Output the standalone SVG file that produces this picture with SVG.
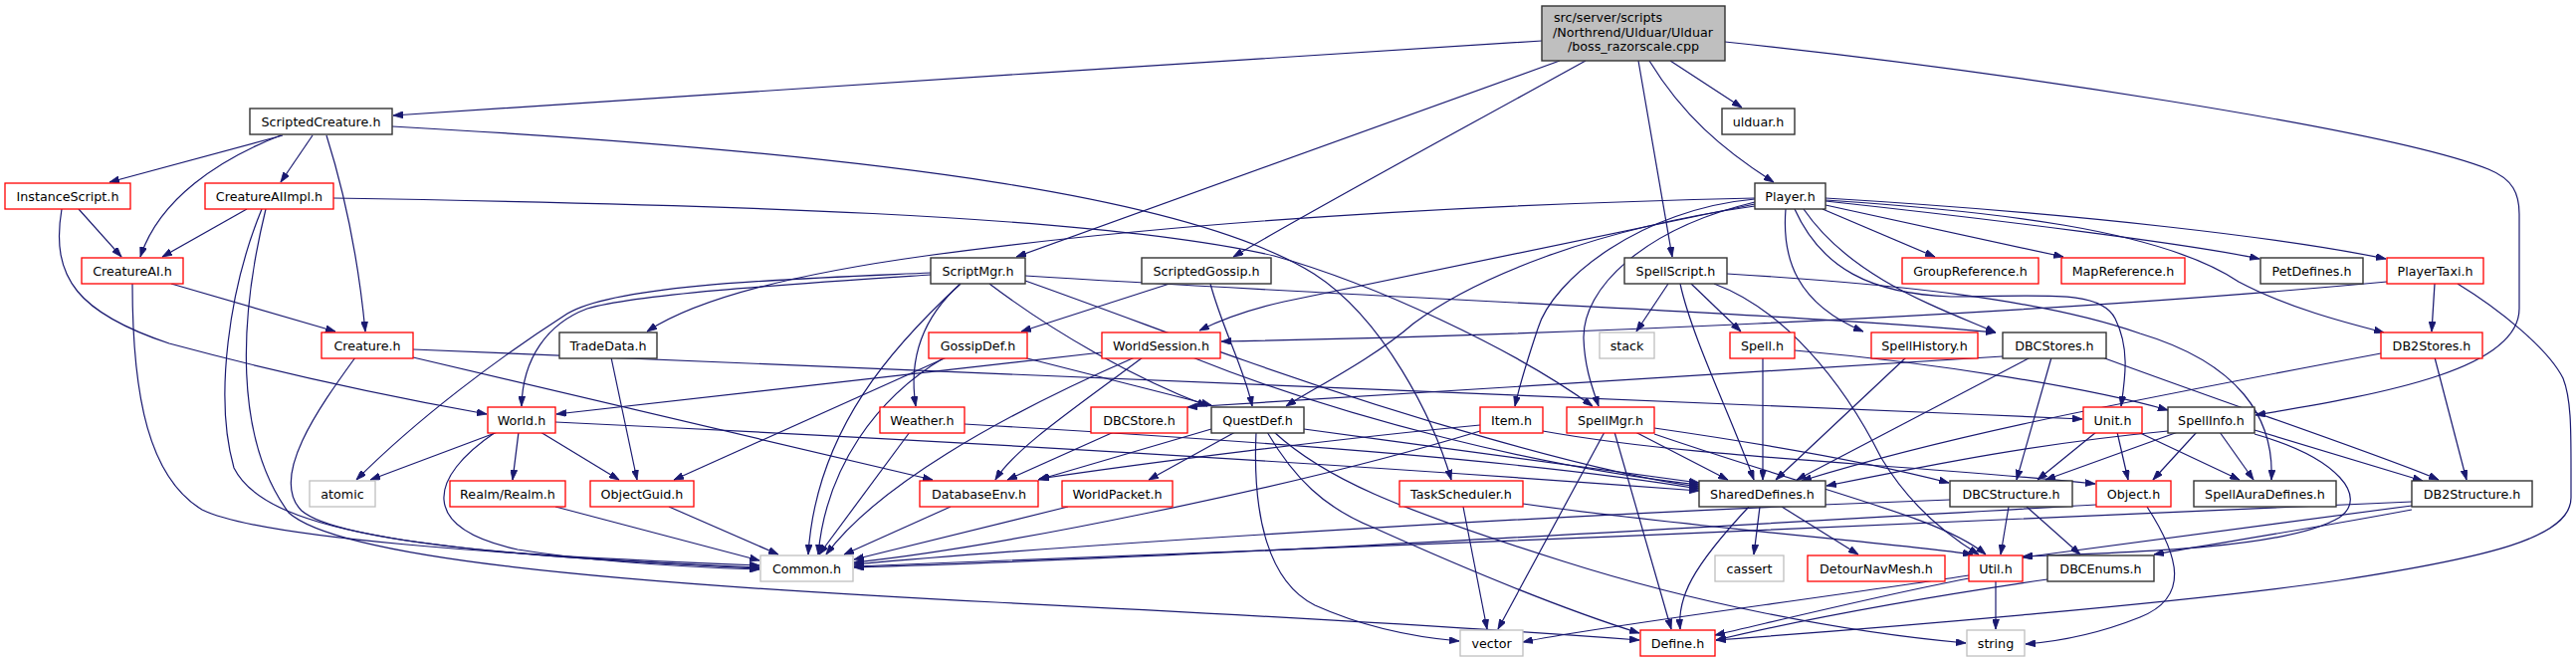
<svg xmlns="http://www.w3.org/2000/svg" width="2588" height="664" viewBox="0 0 2588 664">
<defs>
<marker id="a" viewBox="0 0 10 7" markerWidth="10" markerHeight="7" refX="10" refY="3.5" orient="auto" markerUnits="userSpaceOnUse">
<path d="M0,0 L10,3.5 L0,7 z" fill="#191970" stroke="#191970" stroke-width="0.8"/>
</marker>
</defs>
<style>
.k{fill:#fff;stroke:#333;stroke-width:1.4}
.r{fill:#fff;stroke:#ff0000;stroke-width:1.3}
.g{fill:#fff;stroke:#bfbfbf;stroke-width:1.3}
.rt{fill:#bfbfbf;stroke:#333;stroke-width:1.4}
text{font-family:"DejaVu Sans","Liberation Sans",sans-serif;font-size:12.7px;fill:#000}
.c{text-anchor:middle}
#edges path{fill:none;stroke:#191970;stroke-width:1.2;marker-end:url(#a)}
</style>
<rect width="2588" height="664" fill="#fff"/>
<g id="edges">
<path d="M1549,41 C1200,63 700,95 395,116"/>
<path d="M1567,61 L1021,258"/>
<path d="M1593,61 C1450,140 1320,210 1239,258"/>
<path d="M1646,61 L1680,258"/>
<path d="M1678,61 L1750,108"/>
<path d="M1657,61 C1690,115 1730,150 1782,183"/>
<path d="M1733,42 C2000,70 2400,130 2500,170 C2525,180 2531,195 2531,215 L2531,310 C2531,370 2400,395 2266,417"/>
<path d="M284,136 L110,183"/>
<path d="M282,136 C220,160 160,200 141,258"/>
<path d="M314,136 L282,183"/>
<path d="M328,136 C345,190 360,260 367,333"/>
<path d="M394,127 C900,155 1200,200 1320,275 C1390,320 1440,420 1458,482"/>
<path d="M79,210 L122,258"/>
<path d="M62,210 C50,280 80,315 170,345 C300,380 400,400 489,416"/>
<path d="M248,210 L163,258"/>
<path d="M263,210 C230,290 215,400 235,470 C270,540 450,555 763,571"/>
<path d="M267,210 C240,320 235,440 290,515 C340,560 600,585 1000,605 C1300,620 1500,632 1647,643"/>
<path d="M335,199 C700,205 1100,215 1280,257 C1380,285 1520,350 1600,408"/>
<path d="M172,285 L337,333"/>
<path d="M133,285 C133,400 150,480 203,512 C260,540 500,558 763,568"/>
<path d="M357,359 C320,410 270,480 303,513 C340,545 550,562 763,570"/>
<path d="M415,351 C900,370 1500,395 2092,421"/>
<path d="M415,359 L937,482"/>
<path d="M935,276 C800,285 640,295 590,310 C550,325 525,360 524,408"/>
<path d="M935,274 C800,280 620,285 570,315 C500,360 420,420 358,482"/>
<path d="M965,285 C900,345 820,430 812,557"/>
<path d="M965,285 C920,325 914,370 920,408"/>
<path d="M994,285 C1060,335 1140,380 1213,408"/>
<path d="M1030,277 C1400,300 1800,315 2005,334"/>
<path d="M1030,282 C1120,314 1200,345 1250,362 C1400,415 1600,475 1707,489"/>
<path d="M1175,285 L1026,333"/>
<path d="M1216,285 C1228,330 1250,370 1258,408"/>
<path d="M951,359 L677,482"/>
<path d="M949,359 C880,400 830,470 822,557"/>
<path d="M1028,359 L1217,407"/>
<path d="M1107,354 L559,416"/>
<path d="M1140,359 C1000,420 880,490 830,557"/>
<path d="M1148,359 C1080,410 1020,450 1000,482"/>
<path d="M1198,359 C1350,420 1550,470 1707,487"/>
<path d="M914,434 C880,480 850,520 823,557"/>
<path d="M969,426 C1300,445 1550,465 1707,491"/>
<path d="M500,434 L372,482"/>
<path d="M521,434 L515,482"/>
<path d="M543,434 L622,482"/>
<path d="M498,434 C430,480 420,530 520,552 C600,565 700,570 763,572"/>
<path d="M558,424 C1000,445 1400,470 1707,493"/>
<path d="M614,359 L640,482"/>
<path d="M672,509 L782,557"/>
<path d="M558,509 L763,563"/>
<path d="M955,509 L848,557"/>
<path d="M1073,509 L858,562"/>
<path d="M1119,434 L1012,482"/>
<path d="M1217,431 L1043,482"/>
<path d="M1241,434 L1154,482"/>
<path d="M1310,431 C1450,450 1600,470 1707,485"/>
<path d="M1262,434 C1258,520 1275,585 1321,608 C1370,630 1420,640 1466,644"/>
<path d="M1273,434 C1300,480 1330,510 1380,530 C1480,575 1580,615 1647,636"/>
<path d="M1280,434 C1330,480 1400,510 1571,564 C1700,605 1850,635 1975,646"/>
<path d="M1487,427 C1350,440 1150,465 1044,481"/>
<path d="M1487,433 C1300,490 1000,550 858,565"/>
<path d="M1550,433 C1700,460 1900,465 2105,486"/>
<path d="M1643,434 L1736,482"/>
<path d="M1612,434 L1505,632"/>
<path d="M1622,434 L1679,632"/>
<path d="M1662,430 C1800,450 1900,470 1958,485"/>
<path d="M1662,436 C1850,500 1950,520 1995,557"/>
<path d="M1470,509 L1494,632"/>
<path d="M1530,506 C1700,530 1900,545 1982,557"/>
<path d="M1757,509 C1700,570 1685,600 1688,632"/>
<path d="M1768,509 L1762,557"/>
<path d="M1790,509 L1867,557"/>
<path d="M1771,359 L1771,482"/>
<path d="M1803,352 C1950,365 2100,390 2178,412"/>
<path d="M1915,359 L1784,482"/>
<path d="M2012,358 C1700,378 1400,395 1193,409"/>
<path d="M2040,359 L1805,482"/>
<path d="M2061,359 L2026,482"/>
<path d="M2112,359 C2250,410 2400,460 2450,482"/>
<path d="M2446,359 L2478,482"/>
<path d="M2392,355 C2100,410 1950,440 1810,483"/>
<path d="M2398,283 C2000,320 1500,338 1227,343"/>
<path d="M2446,285 L2443,333"/>
<path d="M2469,285 C2510,310 2560,350 2575,380 C2583,400 2583,430 2583,470 L2583,500 C2583,540 2500,560 2350,583 C2200,605 1900,630 1724,643"/>
<path d="M1763,199 C1500,205 1200,220 930,257 C800,275 700,300 650,333"/>
<path d="M1763,205 C1550,250 1350,290 1290,303 C1250,312 1225,322 1205,332"/>
<path d="M1763,207 C1600,230 1480,280 1420,325 C1380,360 1320,390 1292,408"/>
<path d="M1763,200 C1650,210 1560,280 1545,330 C1535,360 1527,385 1522,408"/>
<path d="M1763,203 C1650,230 1590,290 1591,340 C1592,370 1600,390 1606,408"/>
<path d="M1794,210 C1790,260 1805,305 1872,333"/>
<path d="M1803,210 C1830,270 1880,295 1960,298 C2050,298 2110,290 2125,320 C2140,350 2135,380 2131,408"/>
<path d="M1812,210 C1860,280 1950,310 2005,334"/>
<path d="M1831,210 L1944,258"/>
<path d="M1834,206 L2073,258"/>
<path d="M1834,202 C2000,220 2200,245 2270,260"/>
<path d="M1834,199 C2100,215 2300,240 2397,260"/>
<path d="M1834,201 C2000,212 2170,230 2249,283 C2300,310 2360,325 2395,334"/>
<path d="M1676,285 L1644,333"/>
<path d="M1699,285 L1749,333"/>
<path d="M1688,285 C1700,340 1740,420 1762,482"/>
<path d="M1722,285 C1790,310 1850,380 1890,460 C1920,510 1960,540 1988,557"/>
<path d="M1735,275 C1900,285 2050,300 2150,335 C2250,365 2285,420 2282,482"/>
<path d="M2106,434 L2047,482"/>
<path d="M2127,434 L2138,482"/>
<path d="M2148,434 L2250,482"/>
<path d="M2178,433 C2050,445 1950,465 1835,488"/>
<path d="M2188,434 L2055,482"/>
<path d="M2207,434 L2163,482"/>
<path d="M2230,434 L2264,482"/>
<path d="M2265,432 L2434,483"/>
<path d="M2265,436 C2350,460 2380,500 2350,520 C2300,550 2150,555 2032,559"/>
<path d="M2018,509 L2010,557"/>
<path d="M2036,509 L2090,557"/>
<path d="M1959,502 C1600,515 1100,545 858,567"/>
<path d="M2106,507 C1700,530 1200,560 858,570"/>
<path d="M2157,509 C2190,560 2200,600 2150,620 C2100,640 2060,645 2035,647"/>
<path d="M1978,581 C1880,600 1780,625 1723,638"/>
<path d="M1978,578 C1800,605 1600,630 1530,645"/>
<path d="M2005,583 L2005,632"/>
<path d="M2057,582 C1900,605 1800,625 1724,643"/>
<path d="M2423,504 C2000,525 1300,552 858,569"/>
<path d="M2423,508 C2250,530 2100,550 2032,560"/>
<path d="M2423,512 C2300,535 2200,550 2164,557"/>
</g>
<g id="root"><rect class="rt" x="1549" y="6" width="184" height="55"/><text x="1561" y="21.5">src/server/scripts</text><text x="1560" y="36.5">/Northrend/Ulduar/Ulduar</text><text class="c" x="1641" y="51">/boss_razorscale.cpp</text></g>
<g id="ScriptedCreature"><rect class="k" x="251" y="109" width="143" height="26"/><text class="c" x="322.5" y="126.5">ScriptedCreature.h</text></g>
<g id="ulduar"><rect class="k" x="1730" y="109" width="73" height="26"/><text class="c" x="1766.5" y="126.5">ulduar.h</text></g>
<g id="InstanceScript"><rect class="r" x="5" y="184" width="126" height="26"/><text class="c" x="68" y="201.5">InstanceScript.h</text></g>
<g id="CreatureAIImpl"><rect class="r" x="206" y="184" width="129" height="26"/><text class="c" x="270.5" y="201.5">CreatureAIImpl.h</text></g>
<g id="Player"><rect class="k" x="1763" y="184" width="71" height="26"/><text class="c" x="1798.5" y="201.5">Player.h</text></g>
<g id="CreatureAI"><rect class="r" x="82" y="259" width="102" height="26"/><text class="c" x="133" y="276.5">CreatureAI.h</text></g>
<g id="ScriptMgr"><rect class="k" x="935" y="259" width="95" height="26"/><text class="c" x="982.5" y="276.5">ScriptMgr.h</text></g>
<g id="ScriptedGossip"><rect class="k" x="1147" y="259" width="130" height="26"/><text class="c" x="1212" y="276.5">ScriptedGossip.h</text></g>
<g id="SpellScript"><rect class="k" x="1632" y="259" width="103" height="26"/><text class="c" x="1683.5" y="276.5">SpellScript.h</text></g>
<g id="GroupReference"><rect class="r" x="1911" y="259" width="137" height="26"/><text class="c" x="1979.5" y="276.5">GroupReference.h</text></g>
<g id="MapReference"><rect class="r" x="2071" y="259" width="124" height="26"/><text class="c" x="2133" y="276.5">MapReference.h</text></g>
<g id="PetDefines"><rect class="k" x="2271" y="259" width="103" height="26"/><text class="c" x="2322.5" y="276.5">PetDefines.h</text></g>
<g id="PlayerTaxi"><rect class="r" x="2398" y="259" width="97" height="26"/><text class="c" x="2446.5" y="276.5">PlayerTaxi.h</text></g>
<g id="Creature"><rect class="r" x="323" y="334" width="92" height="26"/><text class="c" x="369" y="351.5">Creature.h</text></g>
<g id="TradeData"><rect class="k" x="562" y="334" width="98" height="26"/><text class="c" x="611" y="351.5">TradeData.h</text></g>
<g id="GossipDef"><rect class="r" x="933" y="334" width="99" height="26"/><text class="c" x="982.5" y="351.5">GossipDef.h</text></g>
<g id="WorldSession"><rect class="r" x="1107" y="334" width="119" height="26"/><text class="c" x="1166.5" y="351.5">WorldSession.h</text></g>
<g id="stack"><rect class="g" x="1607" y="334" width="55" height="26"/><text class="c" x="1634.5" y="351.5">stack</text></g>
<g id="Spell"><rect class="r" x="1738" y="334" width="65" height="26"/><text class="c" x="1770.5" y="351.5">Spell.h</text></g>
<g id="SpellHistory"><rect class="r" x="1880" y="334" width="107" height="26"/><text class="c" x="1933.5" y="351.5">SpellHistory.h</text></g>
<g id="DBCStores"><rect class="k" x="2012" y="334" width="104" height="26"/><text class="c" x="2064" y="351.5">DBCStores.h</text></g>
<g id="DB2Stores"><rect class="r" x="2392" y="334" width="102" height="26"/><text class="c" x="2443" y="351.5">DB2Stores.h</text></g>
<g id="World"><rect class="r" x="490" y="409" width="68" height="26"/><text class="c" x="524" y="426.5">World.h</text></g>
<g id="Weather"><rect class="r" x="884" y="409" width="85" height="26"/><text class="c" x="926.5" y="426.5">Weather.h</text></g>
<g id="DBCStore"><rect class="r" x="1096" y="409" width="97" height="26"/><text class="c" x="1144.5" y="426.5">DBCStore.h</text></g>
<g id="QuestDef"><rect class="k" x="1217" y="409" width="93" height="26"/><text class="c" x="1263.5" y="426.5">QuestDef.h</text></g>
<g id="Item"><rect class="r" x="1487" y="409" width="63" height="26"/><text class="c" x="1518.5" y="426.5">Item.h</text></g>
<g id="SpellMgr"><rect class="r" x="1574" y="409" width="88" height="26"/><text class="c" x="1618" y="426.5">SpellMgr.h</text></g>
<g id="Unit"><rect class="r" x="2093" y="409" width="59" height="26"/><text class="c" x="2122.5" y="426.5">Unit.h</text></g>
<g id="SpellInfo"><rect class="k" x="2178" y="409" width="87" height="26"/><text class="c" x="2221.5" y="426.5">SpellInfo.h</text></g>
<g id="atomic"><rect class="g" x="311" y="483" width="66" height="26"/><text class="c" x="344" y="500.5">atomic</text></g>
<g id="Realm"><rect class="r" x="452" y="483" width="116" height="26"/><text class="c" x="510" y="500.5">Realm/Realm.h</text></g>
<g id="ObjectGuid"><rect class="r" x="593" y="483" width="104" height="26"/><text class="c" x="645" y="500.5">ObjectGuid.h</text></g>
<g id="DatabaseEnv"><rect class="r" x="924" y="483" width="119" height="26"/><text class="c" x="983.5" y="500.5">DatabaseEnv.h</text></g>
<g id="WorldPacket"><rect class="r" x="1067" y="483" width="111" height="26"/><text class="c" x="1122.5" y="500.5">WorldPacket.h</text></g>
<g id="TaskScheduler"><rect class="r" x="1406" y="483" width="124" height="26"/><text class="c" x="1468" y="500.5">TaskScheduler.h</text></g>
<g id="SharedDefines"><rect class="k" x="1707" y="483" width="127" height="26"/><text class="c" x="1770.5" y="500.5">SharedDefines.h</text></g>
<g id="DBCStructure"><rect class="k" x="1959" y="483" width="123" height="26"/><text class="c" x="2020.5" y="500.5">DBCStructure.h</text></g>
<g id="Object"><rect class="r" x="2106" y="483" width="75" height="26"/><text class="c" x="2143.5" y="500.5">Object.h</text></g>
<g id="SpellAuraDefines"><rect class="k" x="2204" y="483" width="143" height="26"/><text class="c" x="2275.5" y="500.5">SpellAuraDefines.h</text></g>
<g id="DB2Structure"><rect class="k" x="2423" y="483" width="121" height="26"/><text class="c" x="2483.5" y="500.5">DB2Structure.h</text></g>
<g id="Common"><rect class="g" x="764" y="558" width="93" height="26"/><text class="c" x="810.5" y="575.5">Common.h</text></g>
<g id="cassert"><rect class="g" x="1723" y="558" width="69" height="26"/><text class="c" x="1757.5" y="575.5">cassert</text></g>
<g id="DetourNavMesh"><rect class="r" x="1816" y="558" width="138" height="26"/><text class="c" x="1885" y="575.5">DetourNavMesh.h</text></g>
<g id="Util"><rect class="r" x="1978" y="558" width="54" height="26"/><text class="c" x="2005" y="575.5">Util.h</text></g>
<g id="DBCEnums"><rect class="k" x="2057" y="558" width="107" height="26"/><text class="c" x="2110.5" y="575.5">DBCEnums.h</text></g>
<g id="vector"><rect class="g" x="1467" y="633" width="63" height="26"/><text class="c" x="1498.5" y="650.5">vector</text></g>
<g id="Define"><rect class="r" x="1648" y="633" width="75" height="26"/><text class="c" x="1685.5" y="650.5">Define.h</text></g>
<g id="string"><rect class="g" x="1976" y="633" width="58" height="26"/><text class="c" x="2005" y="650.5">string</text></g>
</svg>
